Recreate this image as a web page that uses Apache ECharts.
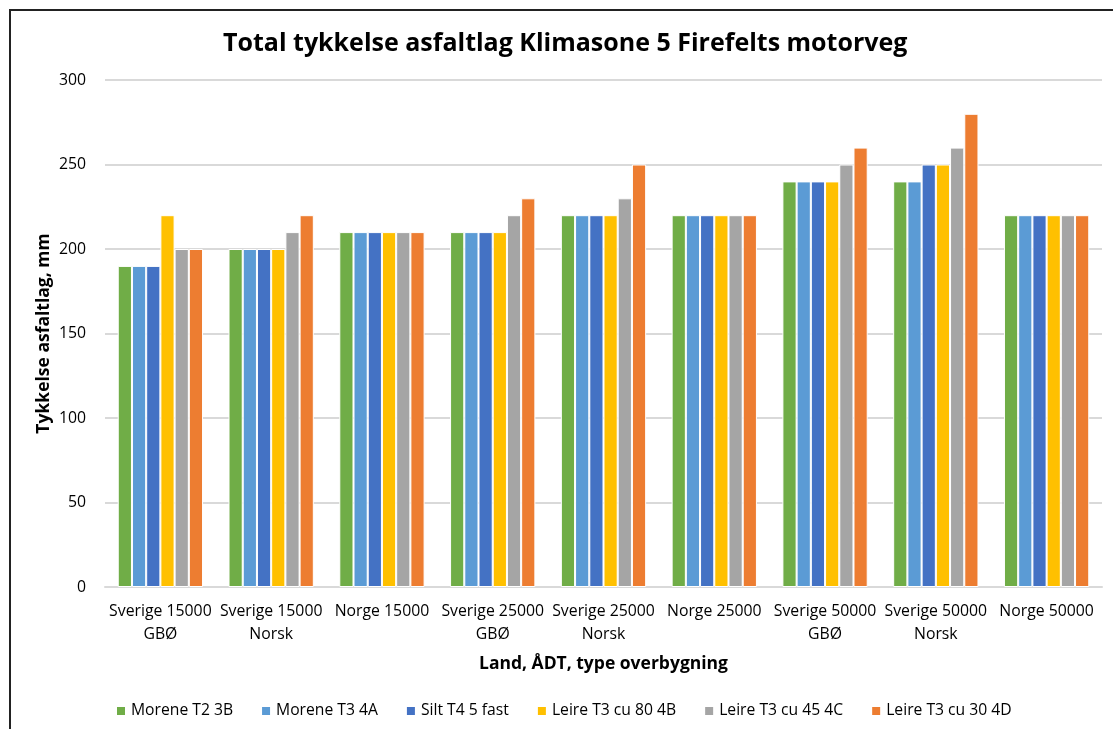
<!DOCTYPE html>
<html>
<head>
<meta charset="utf-8">
<script src="https://cdn.jsdelivr.net/npm/echarts@6/dist/echarts.min.js"></script>
<style>html,body{margin:0;padding:0;background:#fff;}#c{width:1113px;height:729px;}</style>
</head>
<body>
<div id="c"></div>
<script>
const categories = ["Sverige 15000\nGBØ", "Sverige 15000\nNorsk", "Norge 15000", "Sverige 25000\nGBØ", "Sverige 25000\nNorsk", "Norge 25000", "Sverige 50000\nGBØ", "Sverige 50000\nNorsk", "Norge 50000"];
const seriesNames = ["Morene T2 3B", "Morene T3 4A", "Silt T4 5 fast", "Leire T3 cu 80 4B", "Leire T3 cu 45 4C", "Leire T3 cu 30 4D"];
const moreneT2_3B   = [190, 200, 210, 210, 220, 220, 240, 240, 220];
const moreneT3_4A   = [190, 200, 210, 210, 220, 220, 240, 240, 220];
const siltT4_5fast  = [190, 200, 210, 210, 220, 220, 240, 250, 220];
const leireCu80_4B  = [220, 200, 210, 210, 220, 220, 240, 250, 220];
const leireCu45_4C  = [200, 210, 210, 220, 230, 220, 250, 260, 220];
const leireCu30_4D  = [200, 220, 210, 230, 250, 220, 260, 280, 220];
const yTicks = [0, 50, 100, 150, 200, 250, 300];
const colors = ["#70AD47", "#5B9BD5", "#4472C4", "#FFC000", "#A5A5A5", "#ED7D31"];

const allValues = [moreneT2_3B, moreneT3_4A, siltT4_5fast, leireCu80_4B, leireCu45_4C, leireCu30_4D];
const font = "'Open Sans', Lato, sans-serif";

const chart = echarts.init(document.getElementById('c'), null, {renderer: 'canvas'});
chart.setOption({
  animation: false,
  backgroundColor: '#ffffff',
  color: colors,
  textStyle: {fontFamily: font},
  graphic: [{
    type: 'rect', silent: true,
    shape: {x: 10, y: 10, width: 1200, height: 900},
    style: {fill: 'none', stroke: '#222', lineWidth: 2}
  }],
  title: {
    text: 'Total tykkelse asfaltlag Klimasone 5 Firefelts motorveg',
    left: 218, top: 26,
    textStyle: {fontFamily: font, fontSize: 25, fontWeight: 'bold', color: '#000'}
  },
  legend: {
    left: 115, top: 703, padding: 0,
    itemWidth: 10, itemHeight: 10, itemGap: 27,
    icon: 'rect',
    textStyle: {fontFamily: font, fontSize: 15.7, color: '#000'},
    data: seriesNames
  },
  grid: {left: 105, right: 11, top: 80, bottom: 142, containLabel: false},
  xAxis: {
    type: 'category',
    data: categories,
    name: 'Land, ÅDT, type overbygning',
    nameLocation: 'middle', nameGap: 68,
    nameTextStyle: {fontFamily: font, fontSize: 17.5, fontWeight: 'bold', color: '#000'},
    axisLine: {lineStyle: {color: '#d9d9d9', width: 2}},
    axisTick: {show: false},
    axisLabel: {interval: 0, margin: 13, fontSize: 15.8, color: '#000', lineHeight: 23, fontFamily: font},
  },
  yAxis: {
    type: 'value', min: 0, max: 300, interval: 50,
    name: 'Tykkelse asfaltlag, mm',
    nameLocation: 'middle', nameGap: 52, nameMoveOverlap: false,
    nameTextStyle: {fontFamily: font, fontSize: 17.5, fontWeight: 'bold', color: '#000'},
    axisLine: {show: false},
    axisTick: {show: false},
    axisLabel: {margin: 19, fontSize: 15.8, color: '#000', fontFamily: font,
      formatter: v => yTicks.includes(v) ? String(v) : ''},
    splitLine: {lineStyle: {color: '#d9d9d9', width: 2}}
  },
  series: seriesNames.map((n, i) => ({
    name: n, type: 'bar', data: allValues[i],
    barGap: '0%', barCategoryGap: '23%',
    itemStyle: {borderColor: '#ffffff', borderWidth: 1}
  }))
});
</script>
</body>
</html>
